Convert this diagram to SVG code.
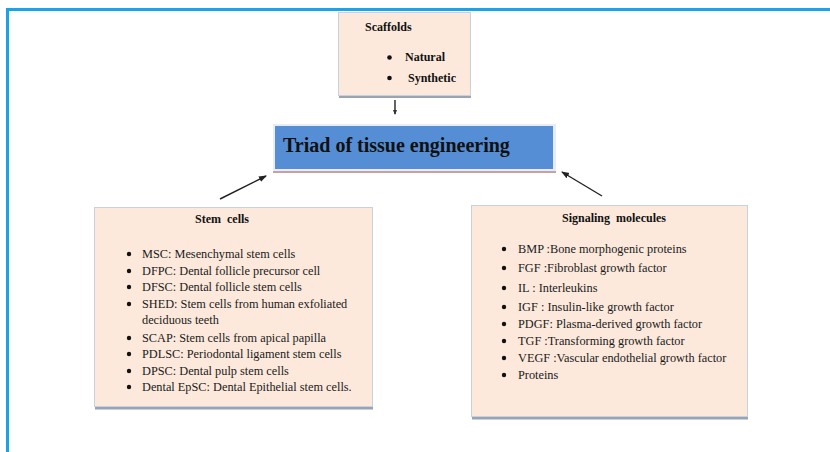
<svg xmlns="http://www.w3.org/2000/svg" width="830" height="452" viewBox="0 0 830 452">
<defs>
<marker id="ah" markerWidth="8" markerHeight="8" refX="7" refY="4" orient="auto" markerUnits="userSpaceOnUse">
<path d="M0,1 L8,4 L0,7 Z" fill="#222"/>
</marker>
<marker id="ahs" markerWidth="5" markerHeight="5" refX="4" refY="2.5" orient="auto" markerUnits="userSpaceOnUse">
<path d="M0,0.5 L5,2.5 L0,4.5 Z" fill="#333"/>
</marker>
</defs>
<style>
.box{fill:#fce9dc;stroke:#c6d2e0;stroke-width:1}
.sh{fill:#98a4b3}
.t{font-size:12.3px;fill:#1a1a1a}
.b{font-size:12px;font-weight:bold;fill:#111}
.bul{fill:#111}
.conn{stroke:#222;stroke-width:1.4;fill:none}
</style>
<rect x="0" y="0" width="830" height="452" fill="#ffffff"/>
<g id="frame">
<rect x="6" y="8" width="824" height="3" fill="#1aa3e8"/>
<rect x="6" y="8" width="3" height="444" fill="#1aa3e8"/>
</g>
<g id="scaffolds" font-family="'Liberation Serif', 'Times New Roman', serif">
<rect class="sh" x="339" y="95" width="132" height="3"/>
<rect class="box" x="338.5" y="12.5" width="132" height="83"/>
<text class="b" x="365" y="31">Scaffolds</text>
<circle class="bul" cx="389.5" cy="57.5" r="2.3"/>
<text class="b" x="405" y="61">Natural</text>
<circle class="bul" cx="389.5" cy="78" r="2.3"/>
<text class="b" x="408" y="82">Synthetic</text>
</g>
<g id="triad" font-family="'Liberation Serif', 'Times New Roman', serif">
<rect x="273" y="170" width="283" height="3" fill="#c8a2a2"/>
<rect x="273" y="124" width="283" height="47" fill="#e8ecf4"/>
<rect x="275" y="126" width="278" height="43" fill="#558ed5"/>
<text x="283" y="152" font-size="20" font-weight="bold" fill="#111">Triad of tissue engineering</text>
</g>
<g id="stem-cells" font-family="'Liberation Serif', 'Times New Roman', serif">
<rect class="sh" x="95" y="406" width="278" height="3.5"/>
<rect class="box" x="94.5" y="207.5" width="278" height="199"/>
<text class="b" x="195" y="223" xml:space="preserve">Stem  cells</text>
<g>
<circle class="bul" cx="129" cy="254" r="2.2"/>
<text class="t" x="142" y="258">MSC: Mesenchymal stem cells</text>
<circle class="bul" cx="129" cy="271" r="2.2"/>
<text class="t" x="142" y="275">DFPC: Dental follicle precursor cell</text>
<circle class="bul" cx="129" cy="287" r="2.2"/>
<text class="t" x="142" y="291">DFSC: Dental follicle stem cells</text>
<circle class="bul" cx="129" cy="304" r="2.2"/>
<text class="t" x="142" y="308">SHED: Stem cells from human exfoliated</text>
<text class="t" x="142" y="324">deciduous teeth</text>
<circle class="bul" cx="129" cy="338" r="2.2"/>
<text class="t" x="142" y="342">SCAP: Stem cells from apical papilla</text>
<circle class="bul" cx="129" cy="354" r="2.2"/>
<text class="t" x="142" y="358">PDLSC: Periodontal ligament stem cells</text>
<circle class="bul" cx="129" cy="371" r="2.2"/>
<text class="t" x="142" y="375">DPSC: Dental pulp stem cells</text>
<circle class="bul" cx="129" cy="387" r="2.2"/>
<text class="t" x="142" y="391">Dental EpSC: Dental Epithelial stem cells.</text>
</g>
</g>
<g id="signaling-molecules" font-family="'Liberation Serif', 'Times New Roman', serif">
<rect class="sh" x="472" y="416" width="276" height="3.5"/>
<rect class="box" x="471.5" y="205.5" width="276" height="211"/>
<text class="b" x="562" y="222" xml:space="preserve">Signaling  molecules</text>
<g>
<circle class="bul" cx="504" cy="249" r="2.2"/>
<text class="t" x="518" y="253">BMP :Bone morphogenic proteins</text>
<circle class="bul" cx="504" cy="268" r="2.2"/>
<text class="t" x="518" y="272">FGF :Fibroblast growth factor</text>
<circle class="bul" cx="504" cy="288" r="2.2"/>
<text class="t" x="518" y="292">IL : Interleukins</text>
<circle class="bul" cx="504" cy="307" r="2.2"/>
<text class="t" x="518" y="311">IGF : Insulin-like growth factor</text>
<circle class="bul" cx="504" cy="324" r="2.2"/>
<text class="t" x="518" y="328">PDGF: Plasma-derived growth factor</text>
<circle class="bul" cx="504" cy="341" r="2.2"/>
<text class="t" x="518" y="345">TGF :Transforming growth factor</text>
<circle class="bul" cx="504" cy="358" r="2.2"/>
<text class="t" x="518" y="362">VEGF :Vascular endothelial growth factor</text>
<circle class="bul" cx="504" cy="375" r="2.2"/>
<text class="t" x="518" y="379">Proteins</text>
</g>
</g>
<g id="connectors">
<line class="conn" x1="395" y1="100" x2="395" y2="114" stroke-width="1" marker-end="url(#ahs)"/>
<line class="conn" x1="220" y1="199" x2="266" y2="176" marker-end="url(#ah)"/>
<line class="conn" x1="602" y1="196" x2="562" y2="172" marker-end="url(#ah)"/>
</g>
</svg>
